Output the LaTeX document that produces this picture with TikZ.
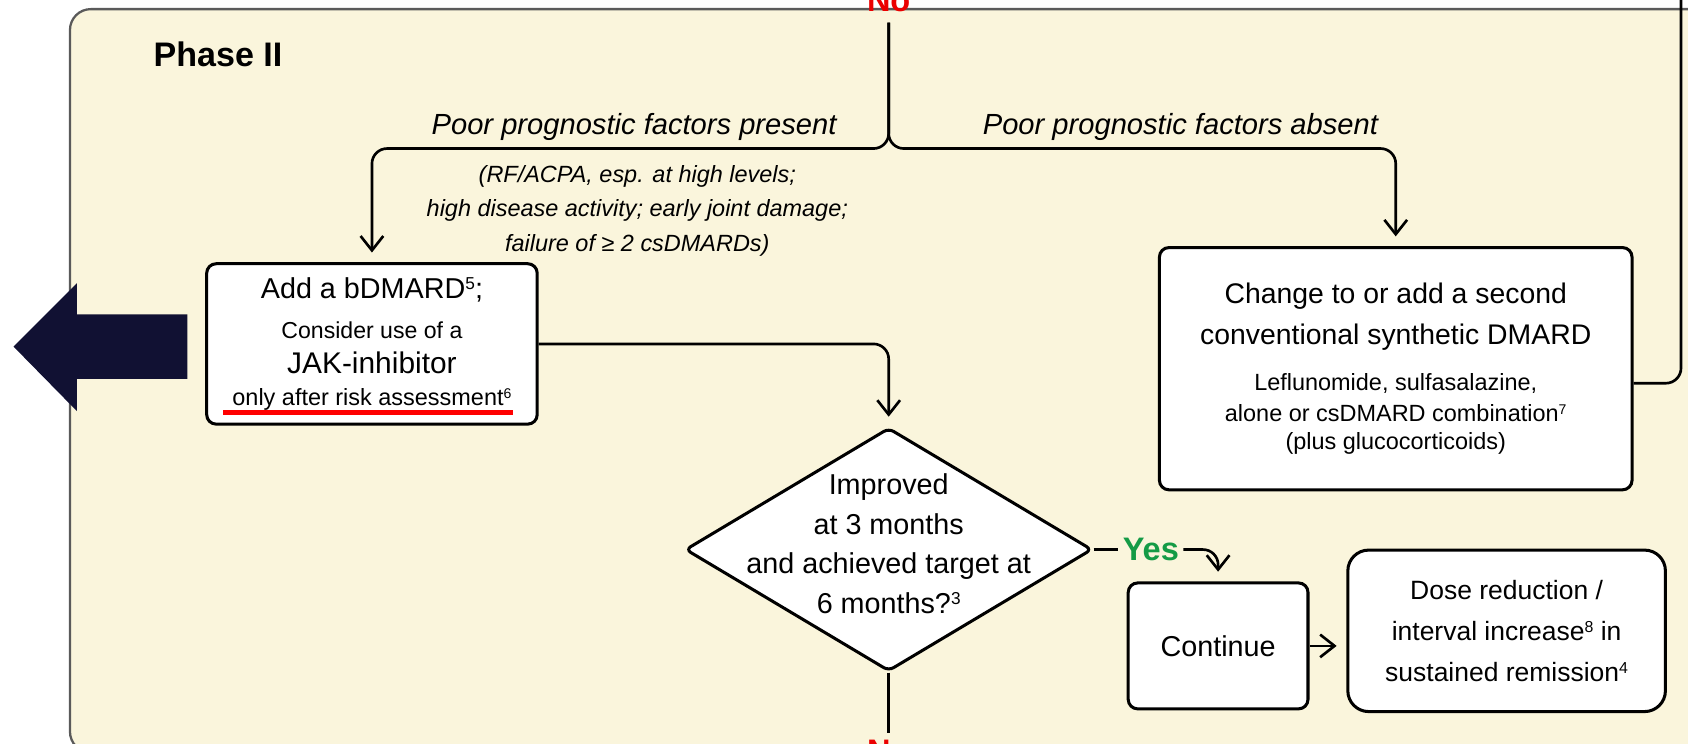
\documentclass[tikz,border=0pt]{standalone}
\usepackage{fontspec}
\usepackage{graphicx}
\setmainfont{Liberation Sans}
\usetikzlibrary{positioning, arrows.meta, shapes.geometric, calc}
\definecolor{phasebg}{RGB}{250,245,220}
\definecolor{phaseline}{RGB}{90,90,90}
\definecolor{eunavy}{RGB}{17,17,51}
\definecolor{yesgreen}{RGB}{20,155,70}
\definecolor{nored}{RGB}{235,0,0}
\newcommand{\fnmark}[1]{\raisebox{0.3em}{\scalebox{0.6}{#1}}}
\tikzset{
    phasebox/.style={draw=phaseline, fill=phasebg, line width=0.6pt, rounded corners=5.5pt},
    stepbox/.style={rectangle, rounded corners=2.5pt, draw=black, fill=white, line width=0.8pt, align=center, inner sep=0pt},
    softbox/.style={rectangle, rounded corners=5.5pt, draw=black, fill=white, line width=0.8pt, align=center, inner sep=0pt},
    decision/.style={diamond, rounded corners=1.5pt, draw=black, fill=white, line width=0.8pt, inner sep=0pt},
    qtext/.style={font=\fontsize{7.6}{10.5}\selectfont, align=center, inner sep=0pt},
    arr/.style={-{Straight Barb[length=3.8pt, width=6pt]}, line width=0.7pt, rounded corners=4pt, shorten >=0.9mm},
    link/.style={line width=0.7pt, rounded corners=4pt},
    branchlbl/.style={font=\fontsize{7.7}{9}\selectfont\itshape, inner sep=0pt},
    factlbl/.style={font=\fontsize{6.2}{9.1}\selectfont\itshape, align=center, inner sep=0pt},
    yeslbl/.style={font=\fontsize{8.6}{10}\selectfont\bfseries, text=yesgreen, inner sep=1pt},
    nolbl/.style={font=\fontsize{8.6}{10}\selectfont\bfseries, text=nored}
}

\begin{document}
\begin{tikzpicture}
    \useasboundingbox (0,0) rectangle (15.68,6.91);
    \draw[phasebox] (0.65,-0.08) rectangle (16.6,6.825);
    \node[anchor=base west, font=\fontsize{9}{11}\selectfont\bfseries, inner sep=0pt] (ph) at (1.42,6.29) {Phase II};

    % coming down from phase I
    \node[nolbl, anchor=base, inner sep=0.9mm] (no1) at (8.255,6.80) {No};
    \coordinate (fork) at (8.255,5.53);
    \coordinate (loop) at (15.615,7.3);

    \node[stepbox, minimum width=3.07cm, minimum height=1.49cm, font=\fontsize{7.6}{6.8}\selectfont] (b1) at (3.455,3.715)
        {{\fontsize{7.6}{6.8}\selectfont Add a bDMARD\fnmark{5};}\\[3.9pt]
         {\fontsize{6.1}{6.8}\selectfont Consider use of a}\\[2.4pt]
         {\fontsize{7.9}{6.8}\selectfont JAK-inhibitor}\\[1.6pt]
         {\fontsize{6.2}{6.8}\selectfont only after risk assessment\fnmark{6}}};
    \node[stepbox, minimum width=4.39cm, minimum height=2.25cm, font=\fontsize{7.5}{7.1}\selectfont] (b2) at (12.965,3.485)
        {Change to or add a second\\[3.7pt]
         conventional synthetic DMARD\\[5.1pt]
         {\fontsize{6.2}{7.1}\selectfont Leflunomide, sulfasalazine,}\\[0.9pt]
         {\fontsize{6.2}{7.1}\selectfont alone or csDMARD combination\fnmark{7}}\\[0.3pt]
         {\fontsize{6.2}{7.1}\selectfont (plus glucocorticoids)}};
    \node[decision, minimum width=3.78cm, minimum height=2.26cm,
        label={[qtext, yshift=0.55mm]center:{Improved\\at 3 months\\and achieved target at\\6 months?\fnmark{3}}}] (q1) at (8.255,1.805) {};
    \node[stepbox, minimum width=1.67cm, minimum height=1.17cm, font=\fontsize{7.6}{9}\selectfont] (c1) at (11.315,0.91) {Continue};
    \node[softbox, minimum width=2.95cm, minimum height=1.50cm, font=\fontsize{7}{10.8}\selectfont] (d1) at (13.995,1.05)
        {Dose reduction /\\interval increase\fnmark{8} in\\sustained remission\fnmark{4}};
    \node[yeslbl] (yes1) at (10.69,1.805) {Yes};
    \node[nolbl, anchor=north, inner sep=0.6mm] (no2) at (8.255,0.10) {No};

    \node[branchlbl, anchor=base] (lp) at (5.89,5.66) {Poor prognostic factors present};
    \node[branchlbl, anchor=base] (la) at (10.965,5.66) {Poor prognostic factors absent};
    \node[factlbl, anchor=north] (lf) at (5.92,5.38)
        {(RF/ACPA, esp. at high levels;\\high disease activity; early joint damage;\\failure of ≥ 2 csDMARDs)};

    % big arrow out of the panel
    \fill[eunavy] (1.74,3.99) -- (0.715,3.99) -- (0.715,4.28) -- (0.126,3.69) -- (0.715,3.09) -- (0.715,3.39) -- (1.74,3.39) -- cycle;
    \draw[red, line width=1.4pt] ($(b1.south west)+(0.17,0.12)$) -- ($(b1.south east)+(-0.24,0.12)$);

    \draw[arr] (no1.south) -- (fork) -| (b1.north);
    \draw[arr] (no1.south) -- (fork) -| (b2.north);
    \draw[arr] (b1.east) -| (q1.north);
    \draw[link] (q1.east) -- (yes1.west);
    \draw[arr] (yes1.east) -| (c1.north);
    \draw[arr] (c1.east) -- (c1.east -| d1.west);
    \draw[link] (q1.south) -- (no2.north);
    \draw[link] ([yshift=-1.35mm]b2.east) -| (loop);
\end{tikzpicture}
\end{document}
